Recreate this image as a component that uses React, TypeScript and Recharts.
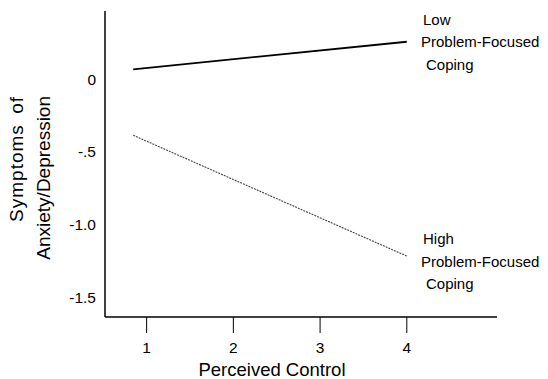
import { LineChart, Line, XAxis, YAxis, Customized } from 'recharts'

// perceived control at the two ends of each simple slope
const controlLevels = [0.845, 4]
const lowCoping = [0.067, 0.256]
const highCoping = [-0.386, -1.215]

const xTicks = [1, 2, 3, 4]
const yTicks = [0, -0.5, -1, -1.5]
const yTickLabels = ['0', '-.5', '-1.0', '-1.5']

const lowNote = ['Low', 'Problem-Focused', 'Coping']
const highNote = ['High', 'Problem-Focused', 'Coping']

const chartData = controlLevels.map((c, i) => ({
  control: c,
  low: lowCoping[i],
  high: highCoping[i],
}))

const font = '"Liberation Sans", Arial, Helvetica, sans-serif'

function Notes() {
  const line = (txt: string, x: number, y: number, key: string) => (
    <text key={key} x={x} y={y} fontSize={15} fontFamily={font} fill="#000">
      {txt}
    </text>
  )
  return (
    <g>
      {line(lowNote[0], 423, 25, 'l0')}
      {line(lowNote[1], 421, 47, 'l1')}
      {line(lowNote[2], 426, 70, 'l2')}
      {line(highNote[0], 423, 244, 'h0')}
      {line(highNote[1], 421, 267, 'h1')}
      {line(highNote[2], 426, 289, 'h2')}
      <text x={272} y={376} fontSize={18.5} fontFamily={font} textAnchor="middle" fill="#000">
        Perceived Control
      </text>
      <text
        x={23}
        y={96}
        fontSize={19}
        fontFamily={font}
        textAnchor="end"
        fill="#000"
        letterSpacing={1}
        wordSpacing={4}
        transform="rotate(-90, 23, 96)"
      >
        Symptoms of
      </text>
      <text x={50} y={96} fontSize={19} fontFamily={font} textAnchor="end" fill="#000" transform="rotate(-90, 50, 96)">
        Anxiety/Depression
      </text>
    </g>
  )
}

export default function App() {
  return (
    <div style={{ position: 'absolute', left: 0, top: 0, background: '#fff' }}>
      <LineChart
        width={548}
        height={379}
        data={chartData}
        margin={{ top: 11, right: 51, bottom: 0, left: 0 }}
      >
        <XAxis
          dataKey="control"
          type="number"
          domain={[0.52, 5.04]}
          ticks={xTicks}
          allowDataOverflow
          height={62}
          axisLine={{ stroke: '#000', strokeWidth: 1.5 }}
          tickLine={{ stroke: '#000', strokeWidth: 1 }}
          tickSize={16}
          tickMargin={9}
          tick={{ fill: '#000', fontSize: 15.5, fontFamily: font }}
        />
        <YAxis
          type="number"
          domain={[-1.633, 0.467]}
          ticks={yTicks}
          allowDataOverflow
          width={105}
          axisLine={{ stroke: '#000', strokeWidth: 1.5 }}
          tickLine={false}
          tickSize={0}
          tickMargin={9}
          tick={{ fill: '#000', fontSize: 15.5, fontFamily: font }}
          tickFormatter={(v: number) => yTickLabels[yTicks.indexOf(v)] ?? String(v)}
        />
        <Line
          dataKey="low"
          stroke="#000"
          strokeWidth={1.8}
          dot={false}
          isAnimationActive={false}
        />
        <Line
          dataKey="high"
          stroke="#444"
          strokeWidth={1.1}
          strokeDasharray="2 1"
          dot={false}
          isAnimationActive={false}
        />
        <Customized component={Notes} />
      </LineChart>
    </div>
  )
}
